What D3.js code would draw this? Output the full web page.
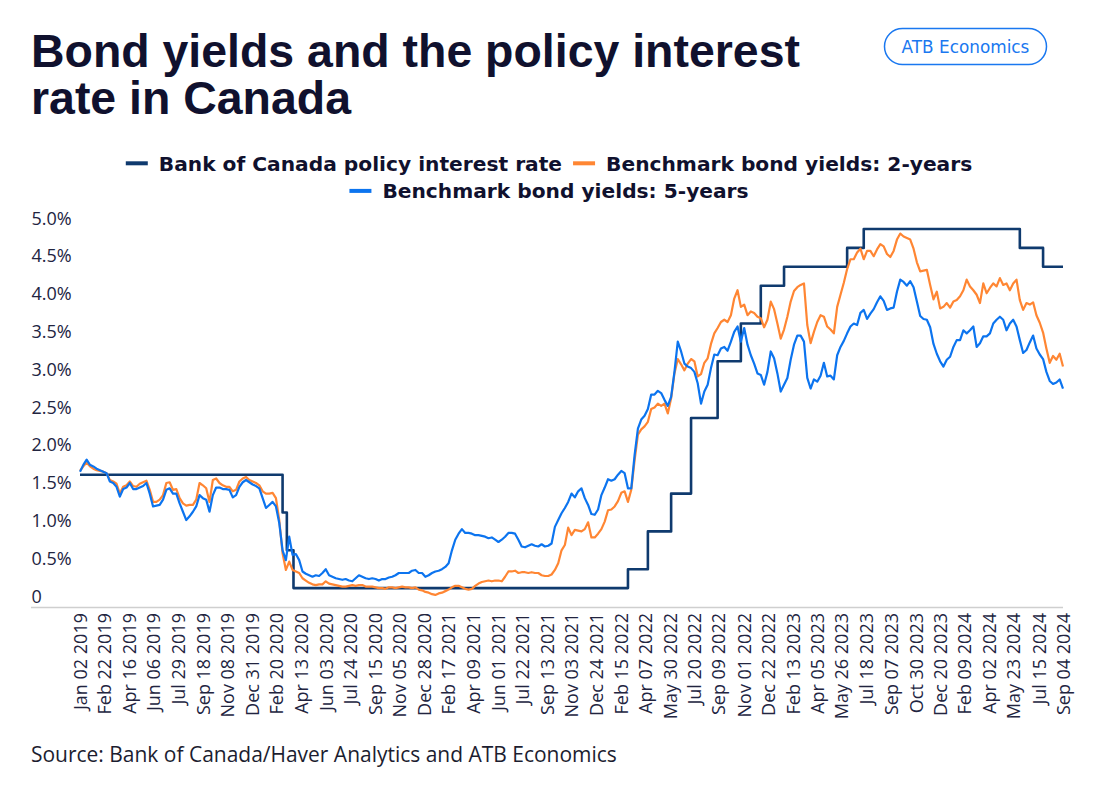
<!DOCTYPE html>
<html><head><meta charset="utf-8">
<script src="https://cdn.jsdelivr.net/npm/d3@7"></script>
<style>
html,body{margin:0;padding:0;background:#fff;}
svg{display:block;}
</style></head><body>
<svg id="chart" width="1105" height="787"></svg>
<script>
// ---------- data ----------
const titleLines = ["Bond yields and the policy interest", "rate in Canada"];
const badgeText = "ATB Economics";
const sourceText = "Source: Bank of Canada/Haver Analytics and ATB Economics";
const seriesNames = ["Bank of Canada policy interest rate", "Benchmark bond yields: 2-years", "Benchmark bond yields: 5-years"];
const seriesColors = ["#0f3a6e", "#ff8633", "#0c74ef"];

const xTickLabels = [
  "2019-01-02","2019-02-22","2019-04-16","2019-06-06","2019-07-29","2019-09-18","2019-11-08","2019-12-31",
  "2020-02-20","2020-04-13","2020-06-03","2020-07-24","2020-09-15","2020-11-05","2020-12-28",
  "2021-02-17","2021-04-09","2021-06-01","2021-07-22","2021-09-13","2021-11-03","2021-12-24",
  "2022-02-15","2022-04-07","2022-05-30","2022-07-20","2022-09-09","2022-11-01","2022-12-22",
  "2023-02-13","2023-04-05","2023-05-26","2023-07-18","2023-09-07","2023-10-30","2023-12-20",
  "2024-02-09","2024-04-02","2024-05-23","2024-07-15","2024-09-04"
];
const yTickValues = [0, 0.5, 1, 1.5, 2, 2.5, 3, 3.5, 4, 4.5, 5];

const policyChangeDates = ["2019-01-02","2020-03-04","2020-03-13","2020-03-27","2022-03-02","2022-04-13","2022-06-01",
  "2022-07-13","2022-09-07","2022-10-26","2022-12-07","2023-01-25","2023-06-07","2023-07-12","2024-06-05","2024-07-24","2024-09-04"];
const policyRates = [1.75,1.25,0.75,0.25,0.5,1.0,1.5,2.5,3.25,3.75,4.25,4.5,4.75,5.0,4.75,4.5,4.5];

// weekly observations (every Wednesday from Jan 02 2019 to Sep 04 2024)
const yieldStartDate = "2019-01-02";
const yields2y = [
  1.80,1.86,1.91,1.86,1.83,1.81,1.80,1.79,1.77,1.68,
  1.66,1.63,1.50,1.59,1.61,1.66,1.60,1.59,1.63,1.65,
  1.67,1.55,1.39,1.39,1.42,1.48,1.64,1.65,1.55,1.56,
  1.44,1.37,1.34,1.35,1.35,1.42,1.64,1.61,1.57,1.39,
  1.68,1.70,1.64,1.61,1.59,1.59,1.53,1.55,1.66,1.70,
  1.72,1.68,1.66,1.64,1.61,1.53,1.50,1.50,1.51,1.44,
  1.15,0.71,0.49,0.60,0.49,0.47,0.45,0.38,
  0.35,0.32,0.30,0.29,0.30,0.30,0.34,0.31,0.30,0.29,
  0.28,0.27,0.27,0.28,0.29,0.28,0.29,0.29,0.27,0.27,
  0.27,0.26,0.25,0.25,0.24,0.26,0.26,0.25,0.26,0.27,
  0.26,0.26,0.25,0.26,0.23,0.22,0.20,0.19,0.17,0.16,
  0.18,0.19,0.21,0.23,0.26,0.28,0.28,0.26,0.24,0.23,
  0.24,0.28,0.31,0.33,0.34,0.35,0.34,0.35,0.35,0.34,
  0.40,0.47,0.47,0.48,0.45,0.46,0.46,0.45,0.46,0.45,
  0.45,0.42,0.41,
  0.41,0.43,0.49,0.58,0.75,0.82,1.05,0.95,1.02,1.01,
  1.00,1.03,1.12,0.92,0.92,0.97,1.03,1.13,1.28,1.29,
  1.33,1.40,1.51,1.53,1.39,1.55,1.94,2.28,2.35,2.39,
  2.45,2.62,2.64,2.69,2.66,2.69,2.56,2.76,3.09,3.28,
  3.21,3.13,3.22,3.28,3.25,3.05,3.08,3.23,3.29,3.48,
  3.62,3.69,3.77,3.80,3.77,3.86,4.08,4.19,3.97,4.00,
  3.86,3.91,3.89,3.84,3.82,3.70,3.80,4.04,3.94,3.75,
  3.55,3.67,3.84,4.04,4.18,4.23,4.26,4.28,3.73,3.49,
  3.64,3.77,3.86,3.84,3.71,3.67,3.62,3.97,4.13,4.29,
  4.47,4.60,4.60,4.69,4.74,4.60,4.71,4.71,4.64,4.73,
  4.80,4.77,
  4.67,4.63,4.71,4.86,4.94,4.90,4.88,4.86,4.74,4.56,
  4.44,4.45,4.46,4.26,4.07,4.17,3.95,3.97,4.02,3.96,
  4.04,4.06,4.11,4.19,4.33,4.24,4.19,4.13,4.02,4.28,
  4.15,4.22,4.28,4.24,4.35,4.26,4.28,4.19,4.28,4.33,
  4.06,3.93,4.02,4.00,4.03,3.86,3.76,3.63,3.42,3.23,
  3.32,3.27,3.35,3.18
];
const yields5y = [
  1.79,1.88,1.95,1.88,1.86,1.83,1.81,1.79,1.77,1.66,
  1.64,1.59,1.46,1.56,1.58,1.64,1.56,1.56,1.58,1.60,
  1.64,1.50,1.33,1.34,1.35,1.42,1.55,1.57,1.50,1.50,
  1.37,1.26,1.15,1.20,1.26,1.33,1.48,1.44,1.42,1.26,
  1.48,1.58,1.58,1.56,1.56,1.55,1.45,1.48,1.59,1.65,
  1.68,1.65,1.62,1.60,1.57,1.44,1.31,1.35,1.39,1.33,
  1.11,0.75,0.62,0.93,0.69,0.70,0.62,0.47,
  0.44,0.42,0.40,0.42,0.41,0.45,0.50,0.42,0.40,0.38,
  0.37,0.36,0.37,0.35,0.34,0.38,0.42,0.40,0.38,0.37,
  0.38,0.37,0.35,0.37,0.37,0.39,0.40,0.42,0.45,0.45,
  0.45,0.45,0.48,0.49,0.45,0.45,0.40,0.42,0.45,0.47,
  0.48,0.50,0.53,0.58,0.75,0.89,0.97,1.03,0.98,0.98,
  0.97,0.95,0.95,0.94,0.93,0.91,0.92,0.89,0.86,0.89,
  0.93,0.98,0.98,0.97,0.89,0.80,0.79,0.81,0.83,0.81,
  0.80,0.83,0.80,
  0.81,0.84,1.06,1.15,1.24,1.31,1.39,1.50,1.45,1.53,
  1.57,1.44,1.35,1.23,1.22,1.29,1.48,1.58,1.69,1.67,
  1.69,1.75,1.80,1.77,1.57,1.57,2.01,2.36,2.48,2.53,
  2.62,2.81,2.81,2.86,2.83,2.74,2.66,2.78,3.11,3.51,
  3.38,3.22,3.18,3.16,3.11,2.96,2.69,2.85,2.94,3.16,
  3.34,3.33,3.42,3.44,3.39,3.51,3.64,3.71,3.51,3.69,
  3.47,3.33,3.22,3.09,3.07,2.94,3.11,3.38,3.29,3.09,
  2.85,2.94,3.03,3.27,3.47,3.59,3.59,3.51,3.03,2.89,
  3.01,2.98,3.06,3.23,3.05,3.06,3.01,3.33,3.44,3.52,
  3.62,3.71,3.75,3.73,3.89,3.93,3.81,3.88,3.94,4.03,
  4.11,4.05,
  3.93,3.95,3.96,4.17,4.33,4.30,4.25,4.31,4.23,4.04,
  3.85,3.81,3.80,3.70,3.48,3.35,3.25,3.18,3.27,3.31,
  3.44,3.53,3.53,3.66,3.62,3.66,3.71,3.44,3.49,3.58,
  3.58,3.62,3.75,3.80,3.84,3.80,3.66,3.75,3.80,3.71,
  3.53,3.36,3.40,3.50,3.59,3.42,3.34,3.28,3.11,2.99,
  2.95,2.97,3.01,2.89
];

// ---------- chart ----------
const parse = d3.timeParse("%Y-%m-%d");
const svg = d3.select("#chart");
const textColor = "#10112e";
const axisTextColor = "#22243f";

const x = d3.scaleTime()
  .domain([parse(xTickLabels[0]), parse(xTickLabels[xTickLabels.length - 1])])
  .range([80, 1063]);
const y = d3.scaleLinear().domain([0, 5]).range([607, 229]);

function fitText(sel, target) {
  const w = sel.node().getComputedTextLength();
  const fs = parseFloat(sel.attr("font-size"));
  if (w > 0) sel.attr("font-size", (fs * target / w).toFixed(2));
}

// title
const tl = svg.append("g");
titleLines.forEach((t, i) => {
  const tt = tl.append("text")
    .attr("x", 31).attr("y", 67 + i * 47)
    .attr("font-family", "'Liberation Sans', Arial, sans-serif")
    .attr("font-weight", 700).attr("font-size", 46)
    .attr("fill", textColor).text(t);
  if (i === 0) fitText(tt, 769);
  else tt.attr("font-size", tl.select("text").attr("font-size"));
});

// badge
const badge = svg.append("g");
badge.append("rect").attr("x", 884.5).attr("y", 28.5).attr("width", 162).attr("height", 36)
  .attr("rx", 18).attr("fill", "#fff").attr("stroke", "#1a78f0").attr("stroke-width", 1.5);
const bt = badge.append("text").attr("x", 965.5).attr("y", 52.5)
  .attr("text-anchor", "middle")
  .attr("font-family", "'DejaVu Sans', sans-serif").attr("font-size", 16)
  .attr("fill", "#1a78f0").text(badgeText);
fitText(bt, 128);

// legend
const legendRows = [[0, 1], [2]];
const legendBaselines = [170.7, 198.3];
const legend = svg.append("g");
legendRows.forEach((row, ri) => {
  const g = legend.append("g");
  let cx = 0;
  row.forEach((si, j) => {
    if (j > 0) cx += 11;
    g.append("rect").attr("x", cx).attr("y", legendBaselines[ri] - 9.4)
      .attr("width", 22).attr("height", 4).attr("fill", seriesColors[si]);
    cx += 33;
    const t = g.append("text").attr("x", cx).attr("y", legendBaselines[ri])
      .attr("font-family", "'DejaVu Sans', sans-serif").attr("font-weight", 700)
      .attr("font-size", 20.2).attr("fill", textColor).text(seriesNames[si]);
    cx += t.node().getComputedTextLength();
  });
  g.attr("transform", `translate(${549 - cx / 2},0)`);
});

// y axis
const yAxis = svg.append("g").attr("transform", "translate(31,0)")
  .call(d3.axisRight(y).tickValues(yTickValues).tickSize(0).tickPadding(0)
    .tickFormat(d => d === 0 ? "0" : d3.format(".1f")(d) + "%"));
yAxis.select(".domain").remove();
yAxis.selectAll("text")
  .attr("x", 0.5).attr("dy", null).attr("y", -5)
  .attr("text-anchor", "start")
  .attr("font-family", "'Open Sans', 'Noto Sans', sans-serif")
  .attr("font-size", 18).attr("fill", axisTextColor);

// x axis
svg.append("line").attr("x1", 31).attr("x2", 1063).attr("y1", 607.5).attr("y2", 607.5)
  .attr("stroke", "#cfcfcf").attr("stroke-width", 1.3);
const xAxis = svg.append("g").attr("transform", "translate(0,607)")
  .call(d3.axisBottom(x).tickValues(xTickLabels.map(parse)).tickSize(0).tickPadding(0)
    .tickFormat(d3.timeFormat("%b %d %Y")));
xAxis.select(".domain").remove();
xAxis.selectAll("text")
  .attr("transform", "rotate(-90)")
  .attr("text-anchor", "end")
  .attr("x", -6).attr("y", 0).attr("dy", "0.35em")
  .attr("font-family", "'Open Sans', 'Noto Sans', sans-serif")
  .attr("font-size", 18).attr("fill", axisTextColor);

// lines
const policyData = policyChangeDates.map((d, i) => ({ date: parse(d), v: policyRates[i] }));
const start = parse(yieldStartDate);
const d2 = yields2y.map((v, i) => ({ date: d3.timeDay.offset(start, 7 * i), v }));
const d5 = yields5y.map((v, i) => ({ date: d3.timeDay.offset(start, 7 * i), v }));

const line = d3.line().x(d => x(d.date)).y(d => y(d.v));
const plot = svg.append("g").attr("fill", "none").attr("stroke-linejoin", "round");
plot.append("path").datum(policyData)
  .attr("d", line.curve(d3.curveStepAfter)(policyData))
  .attr("stroke", seriesColors[0]).attr("stroke-width", 2.6);
const lineLin = d3.line().x(d => x(d.date)).y(d => y(d.v)).curve(d3.curveLinear);
plot.append("path").attr("d", lineLin(d2)).attr("stroke", seriesColors[1]).attr("stroke-width", 2.2);
plot.append("path").attr("d", lineLin(d5)).attr("stroke", seriesColors[2]).attr("stroke-width", 2.2);

// source
const st = svg.append("text").attr("x", 31).attr("y", 762)
  .attr("font-family", "'Open Sans', 'Noto Sans', sans-serif")
  .attr("font-size", 19).attr("fill", "#1c1d30").text(sourceText);
fitText(st, 586);
</script>
</body></html>
